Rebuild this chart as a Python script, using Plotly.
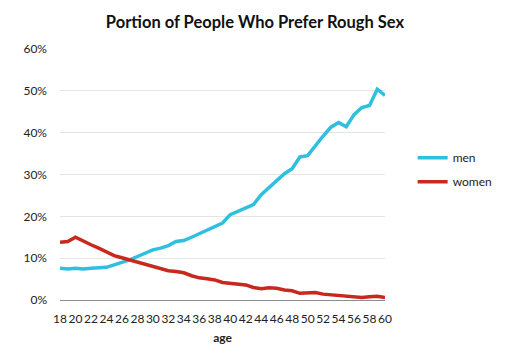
import plotly.graph_objects as go

ages = list(range(18, 61))
men = [7.6, 7.4, 7.6, 7.4, 7.6, 7.8, 7.8, 8.4, 8.9, 9.6, 10.4, 11.2, 12.0, 12.4, 13.0,
       14.0, 14.2, 15.0, 15.8, 16.8, 17.4, 18.4, 20.4, 21.2, 22.0, 22.8, 25.2, 26.8,
       28.6, 30.2, 31.4, 34.2, 34.5, 36.9, 39.2, 41.3, 42.4, 41.4, 44.3, 46.0, 46.5,
       50.4, 48.9]
women = [13.8, 14.0, 15.0, 14.0, 13.2, 12.4, 11.4, 10.6, 10.1, 9.6, 9.0, 8.6, 8.0, 7.4,
         7.0, 6.8, 6.5, 5.8, 5.3, 5.1, 4.8, 4.2, 4.0, 4.0, 3.6, 3.0, 2.7, 2.9, 2.8, 2.4,
         2.2, 1.6, 1.8, 1.8, 1.4, 1.2, 1.1, 1.0, 0.7, 0.6, 0.8, 0.9, 0.6]
x_ticks = list(range(18, 61, 2))
y_ticks = [0, 10, 20, 30, 40, 50, 60]

fig = go.Figure()
fig.add_trace(go.Scatter(x=ages, y=[v / 100 for v in men], mode="lines", name="men",
                         legendgroup="men",
                         line=dict(color="#2fbfdf", width=3.5)))
fig.add_trace(go.Scatter(x=ages, y=[v / 100 for v in women], mode="lines", name="women",
                         legendgroup="women",
                         line=dict(color="#c8281e", width=3.5)))

fig.update_layout(
    width=510, height=363,
    margin=dict(l=60, r=110, t=49, b=63),
    paper_bgcolor="white", plot_bgcolor="white",
    font=dict(family="Lato, 'Open Sans', sans-serif", color="#222222", size=12),
    title=dict(text="<b>Portion of People Who Prefer Rough Sex</b>",
               x=0.5, xref="container", xanchor="center",
               y=0.94, yref="container", yanchor="middle",
               font=dict(size=16.5, color="#111111")),
    legend=dict(x=1.085, y=0.625, xanchor="left", yanchor="top",
                font=dict(size=12, color="#222222"), bgcolor="rgba(0,0,0,0)",
                itemwidth=30, traceorder="grouped", tracegroupgap=5),
    showlegend=True,
)
fig.update_xaxes(range=[18, 60], tickvals=x_ticks, ticktext=[str(t) for t in x_ticks],
                 showgrid=False, zeroline=False, showline=False, ticks="",
                 tickangle=0, automargin=False,
                 ticklabelstandoff=10, tickfont=dict(size=12),
                 title=dict(text="<b>age</b>", font=dict(size=12), standoff=8))
fig.update_yaxes(range=[0, 0.6], tickvals=[v / 100 for v in y_ticks],
                 ticktext=[f"{v}%" for v in y_ticks], automargin=False,
                 showgrid=True, gridcolor="#e4e4e4", gridwidth=1,
                 zeroline=True, zerolinecolor="#8c8c8c", zerolinewidth=1,
                 showline=False, ticks="", ticklabelstandoff=12,
                 tickfont=dict(size=12))

fig.write_html("out.html", config={"displayModeBar": False},
               post_script="document.body.style.margin='0';document.body.style.padding='0';")
